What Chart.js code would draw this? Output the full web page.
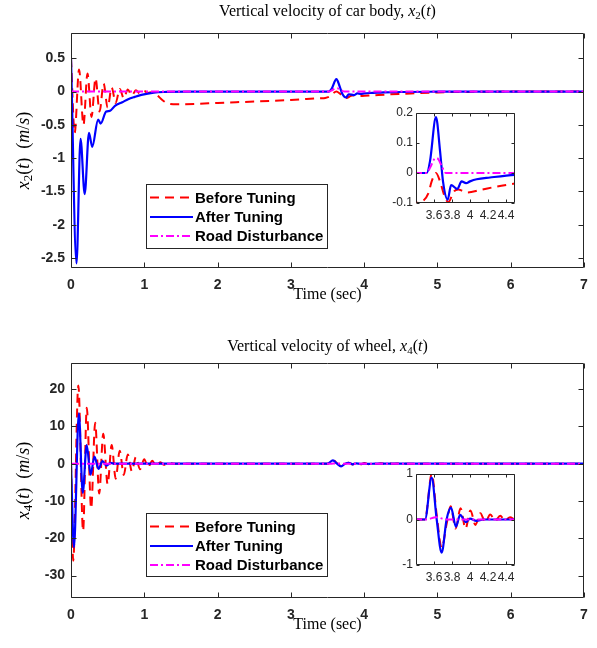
<!DOCTYPE html>
<html>
<head>
<meta charset="utf-8">
<script src="https://cdn.jsdelivr.net/npm/chart.js@4.4.1/dist/chart.umd.min.js"></script>
<style>
  body { margin: 0; background: #fff; }
  #wrap { position: relative; width: 597px; height: 648px; }
  canvas { position: absolute; }
</style>
</head>
<body>
<div id="wrap">
  <canvas id="bodyChart" style="left:0;top:0;width:597px;height:324px" width="597" height="324"></canvas>
  <canvas id="wheelChart" style="left:0;top:324px;width:597px;height:324px" width="597" height="324"></canvas>
  <canvas id="bodyInset" style="left:380px;top:100px;width:150px;height:130px" width="150" height="130"></canvas>
  <canvas id="wheelInset" style="left:380px;top:460px;width:150px;height:130px" width="150" height="130"></canvas>
</div>
<script>
// tick labels
const timeTicks = [0, 1, 2, 3, 4, 5, 6, 7];
const bodyTicks = [-2.5, -2, -1.5, -1, -0.5, 0, 0.5];
const wheelTicks = [-30, -20, -10, 0, 10, 20];
const insetTimeTicks = [3.6, 3.8, 4, 4.2, 4.4];
const bodyInsetTicks = [-0.1, 0, 0.1, 0.2];
const wheelInsetTicks = [-1, 0, 1];
const seriesNames = ['Before Tuning', 'After Tuning', 'Road Disturbance'];

// car body velocity x2(t)
const bodyBeforeT = [0, 0.05, 0.11, 0.17, 0.225, 0.28, 0.335, 0.39, 0.445, 0.5, 0.555, 0.61, 0.665, 0.72, 0.775, 0.83, 0.885, 0.94, 0.995, 1.05, 1.1, 1.17, 1.25, 1.33, 1.45, 1.7, 2.0, 2.5, 3.0, 3.4, 3.47, 3.537, 3.574, 3.622, 3.667, 3.72, 3.759, 3.82, 3.87, 3.92, 3.97, 4.11, 4.3, 4.5, 5.0, 5.5, 6.0, 7.0];
const bodyBeforeV = [0.5, -0.62, 0.33, -0.5, 0.27, -0.38, 0.2, -0.3, 0.12, -0.24, 0.06, -0.17, 0.04, -0.1, 0.03, -0.06, 0.02, -0.03, 0.01, -0.02, -0.01, -0.05, -0.13, -0.18, -0.19, -0.185, -0.17, -0.15, -0.125, -0.1, -0.095, -0.068, -0.028, 0, -0.028, -0.08, -0.097, -0.062, -0.055, -0.06, -0.065, -0.057, -0.045, -0.035, -0.012, -0.004, 0, 0];
const bodyAfterT = [0, 0.075, 0.13, 0.187, 0.245, 0.29, 0.37, 0.405, 0.48, 0.53, 0.6, 0.7, 0.78, 0.87, 0.96, 1.13, 1.3, 1.6, 2.0, 3.0, 3.52, 3.556, 3.622, 3.667, 3.7, 3.752, 3.79, 3.859, 3.907, 3.956, 4.0, 4.074, 4.222, 4.5, 5.0, 6.0, 7.0];
const bodyAfterV = [0.5, -2.58, -0.71, -1.54, -0.62, -0.83, -0.42, -0.48, -0.3, -0.29, -0.215, -0.16, -0.115, -0.08, -0.05, -0.015, -0.005, 0, 0, 0, 0, 0.04, 0.186, 0.074, -0.028, -0.089, -0.04, -0.053, -0.028, -0.034, -0.028, -0.021, -0.015, -0.006, -0.002, 0, 0];

// road disturbance, same in both plots
const roadT = [0, 3.52, 3.56, 3.6, 3.625, 3.65, 3.69, 3.73, 7];
const roadV = [0, 0, 0.02, 0.045, 0.05, 0.045, 0.02, 0, 0];

// wheel velocity x4(t)
const wheelBeforeT = [0, 0.03, 0.1, 0.165, 0.215, 0.275, 0.33, 0.385, 0.44, 0.5, 0.555, 0.61, 0.665, 0.72, 0.775, 0.83, 0.885, 0.94, 1.0, 1.05, 1.11, 1.16, 1.22, 1.27, 1.33, 1.4, 3.5, 3.575, 3.63, 3.685, 3.74, 3.785, 3.84, 3.895, 3.95, 4.005, 4.06, 4.115, 4.17, 4.225, 4.28, 4.335, 4.39, 4.445, 4.5, 4.6, 7];
const wheelBeforeV = [0, -26, 21, -18, 15, -12, 11, -8, 8, -5.5, 5, -4, 3.5, -3, 2.5, -2, 1.8, -1.5, 1.2, -1, 0.8, -0.6, 0.4, -0.3, 0.2, 0, 0, 1.0, 0.1, -0.62, -0.1, 0.29, -0.2, 0.25, -0.2, 0.2, -0.12, 0.14, -0.06, 0.11, -0.03, 0.08, -0.02, 0.05, 0, 0, 0];
const wheelAfterT = [0, 0.04, 0.107, 0.16, 0.214, 0.268, 0.32, 0.375, 0.43, 0.485, 0.54, 0.6, 1.0, 3.5, 3.574, 3.63, 3.685, 3.74, 3.789, 3.844, 3.89, 3.955, 4.0, 4.07, 4.15, 4.5, 7];
const wheelAfterV = [0, -22.4, 13.5, -7.8, 5, -2.9, 1.9, -1.4, 0.7, -0.5, 0.2, 0, 0, 0, 0.92, 0, -0.73, 0, 0.26, -0.16, 0.1, -0.06, 0.02, -0.03, 0, 0, 0];

const axisColor = '#262626';
const serif = '"Liberation Serif", "DejaVu Serif", serif';
const sans = '"Liberation Sans", Arial, sans-serif';

function toPoints(ts, vs) {
    return ts.map((t, i) => ({x: t, y: vs[i]}));
}

function fmt(v) {
    return String(Math.round(v * 100) / 100);
}

function makeSets(beforeT, beforeV, afterT, afterV) {
    return [
        {label: seriesNames[0], data: toPoints(beforeT, beforeV), borderColor: '#ff0000', borderWidth: 2, borderDash: [9, 6], order: 3},
        {label: seriesNames[1], data: toPoints(afterT, afterV), borderColor: '#0000ff', borderWidth: 2.2, order: 2},
        {label: seriesNames[2], data: toPoints(roadT, roadV), borderColor: '#ff00ff', borderWidth: 2, borderDash: [8, 3, 2, 3], order: 1}
    ];
}

// draws text with italic parts and subscripts: [text, 'n' | 'i' | 's']
function drawRich(ctx, parts, x, y, size, rotate) {
    const fontFor = s => (s === 'i' ? 'italic ' : '') + (s === 's' ? Math.round(size * 0.7) : size) + 'px ' + serif;
    let total = 0;
    parts.forEach(p => { ctx.font = fontFor(p[1]); total += ctx.measureText(p[0]).width; });
    ctx.save();
    ctx.translate(x, y);
    if (rotate) ctx.rotate(-Math.PI / 2);
    ctx.fillStyle = '#000';
    ctx.textBaseline = 'middle';
    ctx.textAlign = 'left';
    let cx = -total / 2;
    parts.forEach(p => {
        ctx.font = fontFor(p[1]);
        ctx.fillText(p[0], cx, p[1] === 's' ? size * 0.28 : 0);
        cx += ctx.measureText(p[0]).width;
    });
    ctx.restore();
}

const framePlugin = {
    id: 'frame',
    beforeDatasetsDraw(chart, args, opts) {
        const a = chart.chartArea;
        chart.ctx.save();
        chart.ctx.fillStyle = '#fff';
        chart.ctx.fillRect(a.left, a.top, a.width, a.height);
        chart.ctx.restore();
    },
    afterDatasetsDraw(chart, args, opts) {
        const {ctx, chartArea: a, scales} = chart;
        const L = Math.round(a.left) + 0.5, R = Math.round(a.right) - 0.5;
        const T = Math.round(a.top) + 0.5, B = Math.round(a.bottom) - 0.5;
        ctx.save();
        ctx.strokeStyle = axisColor;
        ctx.lineWidth = 1;
        ctx.beginPath();
        ctx.rect(L, T, R - L, B - T);
        scales.x.ticks.forEach(t => {
            const px = Math.round(scales.x.getPixelForValue(t.value)) + 0.5;
            ctx.moveTo(px, B); ctx.lineTo(px, B - opts.tick);
            ctx.moveTo(px, T); ctx.lineTo(px, T + opts.tick);
        });
        scales.y.ticks.forEach(t => {
            const py = Math.round(scales.y.getPixelForValue(t.value)) + 0.5;
            ctx.moveTo(L, py); ctx.lineTo(L + opts.tick, py);
            ctx.moveTo(R, py); ctx.lineTo(R - opts.tick, py);
        });
        ctx.stroke();
        ctx.restore();
    },
    afterDraw(chart, args, opts) {
        const {ctx, chartArea: a} = chart;
        const mid = (a.left + a.right) / 2;
        if (opts.title) drawRich(ctx, opts.title, mid, a.top - opts.titleGap, 16, false);
        if (opts.xLabel) drawRich(ctx, [[opts.xLabel, 'n']], mid, a.bottom + 27, 16, false);
        if (opts.yLabel) drawRich(ctx, opts.yLabel, 24, (a.top + a.bottom) / 2, 18, true);
        const lg = opts.legend;
        if (!lg) return;
        ctx.save();
        ctx.fillStyle = '#fff';
        ctx.fillRect(lg.x, lg.y, lg.w, lg.h);
        ctx.strokeStyle = axisColor;
        ctx.lineWidth = 1;
        ctx.strokeRect(lg.x + 0.5, lg.y + 0.5, lg.w, lg.h);
        chart.data.datasets.forEach((ds, i) => {
            const y = lg.y + lg.rows[i];
            ctx.strokeStyle = ds.borderColor;
            ctx.lineWidth = ds.borderWidth;
            ctx.setLineDash(ds.borderDash || []);
            ctx.beginPath();
            ctx.moveTo(lg.x + 4, y);
            ctx.lineTo(lg.x + 47, y);
            ctx.stroke();
            ctx.setLineDash([]);
            ctx.fillStyle = '#000';
            ctx.font = 'bold 15px ' + sans;
            ctx.textBaseline = 'middle';
            ctx.fillText(ds.label, lg.x + 49, y + 1);
        });
        ctx.restore();
    }
};

function makeChart(id, sets, g) {
    const tickFont = g.inset ? {family: sans, size: 12} : {family: sans, size: 14, weight: 'bold'};
    return new Chart(document.getElementById(id), {
        type: 'line',
        data: {datasets: sets},
        plugins: [framePlugin],
        options: {
            responsive: false,
            animation: false,
            events: [],
            layout: {padding: g.padding},
            elements: {point: {radius: 0}, line: {cubicInterpolationMode: 'monotone', fill: false}},
            plugins: {
                legend: {display: false},
                tooltip: {enabled: false},
                frame: {tick: g.inset ? 3 : 5, title: g.title, titleGap: g.titleGap, xLabel: g.xLabel, yLabel: g.yLabel, legend: g.legend}
            },
            scales: {
                x: {
                    type: 'linear', min: g.xMin, max: g.xMax,
                    afterBuildTicks: s => { s.ticks = g.xTicks.map(v => ({value: v})); },
                    afterFit: s => { s.height = g.xHeight; },
                    grid: {display: false, drawTicks: false},
                    border: {display: false},
                    ticks: {font: tickFont, color: axisColor, padding: g.inset ? 5 : 9, maxRotation: 0, autoSkip: false, callback: v => fmt(v)}
                },
                y: {
                    type: 'linear', min: g.yMin, max: g.yMax,
                    afterBuildTicks: s => { s.ticks = g.yTicks.map(v => ({value: v})); },
                    afterFit: s => { s.width = g.yWidth; },
                    grid: {display: false, drawTicks: false},
                    border: {display: false},
                    ticks: {font: tickFont, color: axisColor, padding: g.inset ? 3 : 6, autoSkip: false, callback: v => fmt(v)}
                }
            }
        }
    });
}

const legendRows = [13.5, 33, 52];

makeChart('bodyChart', makeSets(bodyBeforeT, bodyBeforeV, bodyAfterT, bodyAfterV), {
    padding: {left: 0, top: 33, right: 13, bottom: 0}, yWidth: 71, xHeight: 56,
    xMin: 0, xMax: 7, yMin: -2.65, yMax: 0.88, xTicks: timeTicks, yTicks: bodyTicks,
    title: [['Vertical velocity of car body, ', 'n'], ['x', 'i'], ['2', 's'], ['(', 'n'], ['t', 'i'], [')', 'n']],
    titleGap: 21,
    xLabel: 'Time (sec)',
    yLabel: [['x', 'i'], ['2', 's'], ['(', 'n'], ['t', 'i'], [')  (', 'n'], ['m', 'i'], ['/', 'n'], ['s', 'i'], [')', 'n']],
    legend: {x: 146, y: 184, w: 181, h: 64, rows: legendRows}
});

makeChart('wheelChart', makeSets(wheelBeforeT, wheelBeforeV, wheelAfterT, wheelAfterV), {
    padding: {left: 0, top: 39, right: 13, bottom: 0}, yWidth: 71, xHeight: 50,
    xMin: 0, xMax: 7, yMin: -36, yMax: 27, xTicks: timeTicks, yTicks: wheelTicks,
    title: [['Vertical velocity of wheel, ', 'n'], ['x', 'i'], ['4', 's'], ['(', 'n'], ['t', 'i'], [')', 'n']],
    titleGap: 16,
    xLabel: 'Time (sec)',
    yLabel: [['x', 'i'], ['4', 's'], ['(', 'n'], ['t', 'i'], [')  (', 'n'], ['m', 'i'], ['/', 'n'], ['s', 'i'], [')', 'n']],
    legend: {x: 146, y: 189, w: 181, h: 63, rows: legendRows}
});

makeChart('bodyInset', makeSets(bodyBeforeT, bodyBeforeV, bodyAfterT, bodyAfterV), {
    inset: true,
    padding: {left: 0, top: 13, right: 15, bottom: 0}, yWidth: 36, xHeight: 27,
    xMin: 3.4, xMax: 4.5, yMin: -0.1, yMax: 0.2, xTicks: insetTimeTicks, yTicks: bodyInsetTicks
});

makeChart('wheelInset', makeSets(wheelBeforeT, wheelBeforeV, wheelAfterT, wheelAfterV), {
    inset: true,
    padding: {left: 0, top: 14, right: 15, bottom: 0}, yWidth: 36, xHeight: 25,
    xMin: 3.4, xMax: 4.5, yMin: -1, yMax: 1, xTicks: insetTimeTicks, yTicks: wheelInsetTicks
});
</script>
</body>
</html>
